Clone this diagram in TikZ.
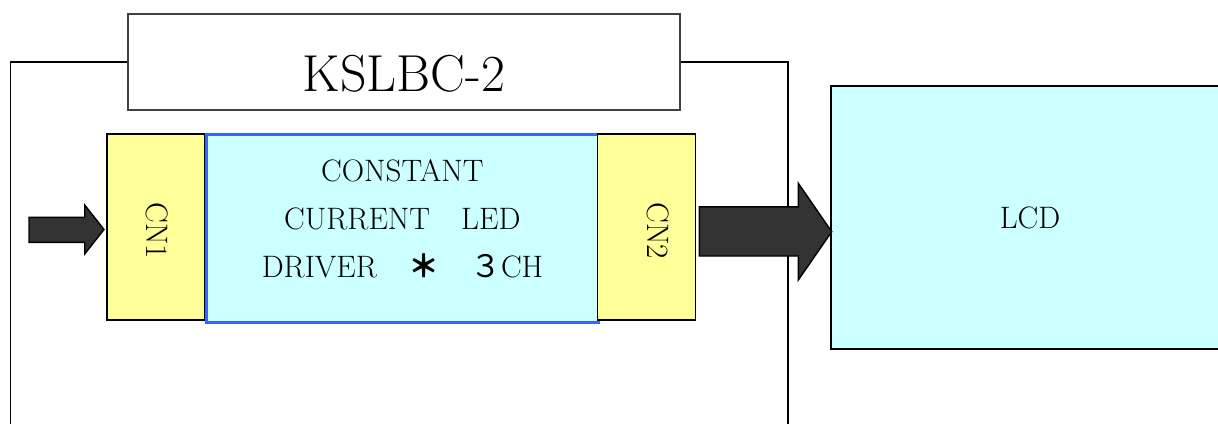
\documentclass[tikz,border=0pt]{standalone}
\usepackage{fontspec}
\newfontfamily\cjk{Noto Sans CJK JP}
\definecolor{cnyellow}{HTML}{FFFF99}
\definecolor{drvcyan}{HTML}{CCFFFF}
\definecolor{drvblue}{HTML}{3366FF}
\definecolor{arrowgray}{HTML}{333333}
\definecolor{titlegray}{HTML}{404040}
\tikzset{
  frameline/.style={draw=black, line width=0.8pt},
  titlebox/.style={draw=titlegray, fill=white, line width=0.8pt},
  cnbox/.style={draw=black, fill=cnyellow, line width=0.8pt},
  drvbox/.style={draw=drvblue, fill=drvcyan, line width=1.5pt},
  lcdbox/.style={draw=black, fill=drvcyan, line width=1pt},
  blockarrow/.style={draw=black, fill=arrowgray, line width=0.7pt, line join=miter},
  bodytext/.style={font=\fontsize{15.5}{18}\selectfont, inner sep=0pt, anchor=base},
  cntext/.style={font=\fontsize{15.5}{18}\selectfont, inner sep=0pt, anchor=base, rotate=-90},
  titletext/.style={font=\fontsize{26}{30}\selectfont, inner sep=0pt, anchor=base}
}
\begin{document}
\begin{tikzpicture}[x=0.5pt, y=-0.5pt]
\useasboundingbox (0,0) rectangle (1218,423);
% named corner coordinates
\coordinate (tbl) at (127.7,62);
\coordinate (tbr) at (680,62);
\coordinate (fbl) at (10.5,426);
\coordinate (fbr) at (788,426);
% outer frame
\draw[frameline] (fbl) |- (tbl);
\draw[frameline] (fbr) |- (tbr);
% title box
\draw[titlebox] (127.7,13.7) rectangle (680,109.7);
\node[titletext] (title) at (404,91.7) {KSLBC-2};
% CN1
\draw[cnbox] (106.7,133.7) rectangle (205,320);
\node[cntext] (cn1) at (146.8,231) {CN1};
% driver box
\draw[drvbox] (206.7,134.7) rectangle (598.3,322.3);
\node[bodytext] (l1) at (402.3,181.7) {CONSTANT};
\node[bodytext] (l2) at (402.3,229) {CURRENT\hspace{1em}LED};
\node[bodytext] (l3) at (402.5,277) {DRIVER{\cjk　{\bfseries ＊}　３}CH};
% CN2
\draw[cnbox] (597.3,133.7) rectangle (695.3,320);
\node[cntext] (cn2) at (647,230.5) {CN2};
% input arrow
\draw[blockarrow] (29,217.3) -- (84.7,217.3) -- (84.7,205) -- (104,229.5)
  -- (84.7,254) -- (84.7,242.3) -- (29,242.3) -- cycle;
% LCD box
\draw[lcdbox] (830.7,85.7) rectangle (1221,349.3);
\node[bodytext] (lcd) at (1030,228.3) {LCD};
% output arrow
\draw[blockarrow] (699.3,206.8) -- (798.3,206.8) -- (798.3,183.3) -- (831.7,231.7)
  -- (798.3,280) -- (798.3,256) -- (699.3,256) -- cycle;
\end{tikzpicture}
\end{document}
